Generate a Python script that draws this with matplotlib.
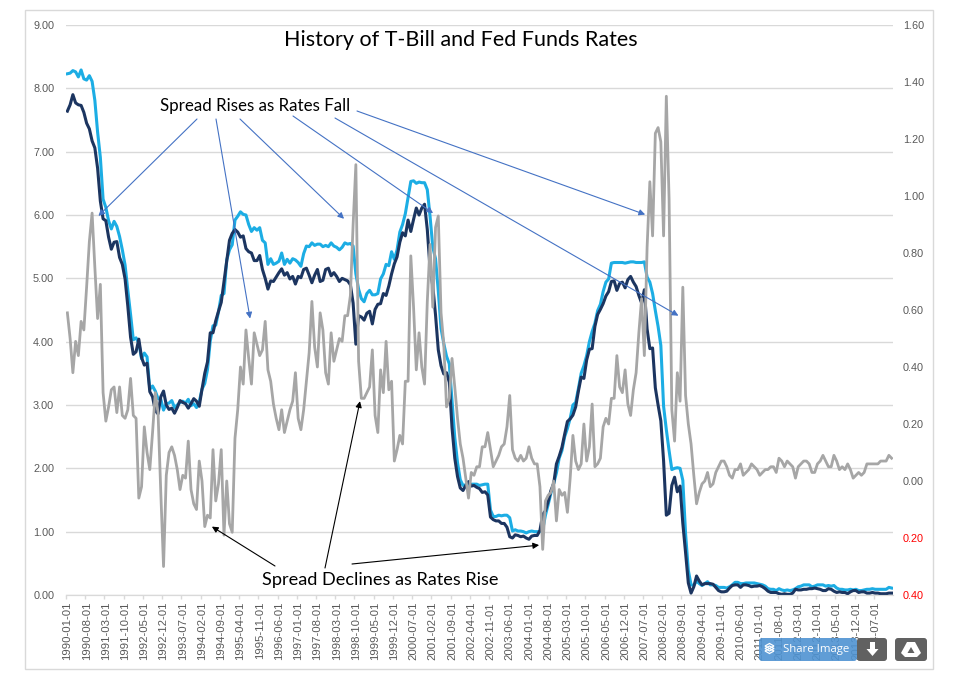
import numpy as np
import pandas as pd
import matplotlib
matplotlib.use('Agg')
import matplotlib.pyplot as plt
from matplotlib.patches import FancyBboxPatch, Rectangle, Polygon

# monthly effective fed funds rate, 1990-01 .. 2015-01
fed_funds = [
    8.23, 8.24, 8.28, 8.26, 8.18, 8.29, 8.15, 8.13, 8.20, 8.11, 7.81, 7.31,
    6.91, 6.25, 6.12, 5.91, 5.78, 5.90, 5.82, 5.66, 5.45, 5.21, 4.81, 4.43,
    4.03, 4.06, 3.98, 3.73, 3.82, 3.76, 3.25, 3.30, 3.22, 3.10, 3.09, 2.92,
    3.02, 3.03, 3.07, 2.96, 3.00, 3.04, 3.06, 3.03, 3.09, 2.99, 3.02, 2.96,
    3.05, 3.25, 3.34, 3.56, 4.01, 4.25, 4.26, 4.47, 4.73, 4.76, 5.29, 5.45,
    5.53, 5.92, 5.98, 6.05, 6.01, 6.00, 5.85, 5.74, 5.80, 5.76, 5.80, 5.60,
    5.56, 5.22, 5.31, 5.22, 5.24, 5.27, 5.40, 5.22, 5.30, 5.24, 5.31, 5.29,
    5.25, 5.19, 5.39, 5.51, 5.50, 5.56, 5.52, 5.54, 5.54, 5.50, 5.52, 5.50,
    5.56, 5.51, 5.49, 5.45, 5.49, 5.56, 5.54, 5.55, 5.51, 5.07, 4.83, 4.68,
    4.63, 4.76, 4.81, 4.74, 4.74, 4.76, 4.99, 5.07, 5.22, 5.20, 5.42, 5.30,
    5.45, 5.73, 5.85, 6.02, 6.27, 6.53, 6.54, 6.50, 6.52, 6.51, 6.51, 6.40,
    5.98, 5.49, 5.31, 4.80, 4.21, 3.97, 3.77, 3.65, 3.07, 2.49, 2.09, 1.82,
    1.73, 1.74, 1.73, 1.75, 1.75, 1.75, 1.73, 1.74, 1.75, 1.75, 1.34, 1.24,
    1.24, 1.26, 1.25, 1.26, 1.26, 1.22, 1.01, 1.03, 1.01, 1.01, 1.00, 0.98,
    1.00, 1.01, 1.00, 1.00, 1.00, 1.03, 1.26, 1.43, 1.61, 1.76, 1.93, 2.16,
    2.28, 2.50, 2.63, 2.79, 3.00, 3.04, 3.26, 3.50, 3.62, 3.78, 4.00, 4.16,
    4.29, 4.49, 4.59, 4.79, 4.94, 4.99, 5.24, 5.25, 5.25, 5.25, 5.25, 5.24,
    5.25, 5.26, 5.26, 5.25, 5.25, 5.25, 5.26, 5.02, 4.94, 4.76, 4.49, 4.24,
    3.94, 2.98, 2.61, 2.28, 1.98, 2.00, 2.01, 2.00, 1.81, 0.97, 0.39, 0.16,
    0.15, 0.22, 0.18, 0.15, 0.18, 0.21, 0.16, 0.16, 0.15, 0.12, 0.12, 0.12,
    0.11, 0.13, 0.16, 0.20, 0.20, 0.18, 0.18, 0.19, 0.19, 0.19, 0.19, 0.18,
    0.17, 0.16, 0.14, 0.10, 0.09, 0.09, 0.07, 0.10, 0.08, 0.07, 0.08, 0.07,
    0.08, 0.10, 0.13, 0.14, 0.16, 0.16, 0.16, 0.13, 0.14, 0.16, 0.16, 0.16,
    0.14, 0.15, 0.14, 0.15, 0.11, 0.09, 0.09, 0.08, 0.08, 0.09, 0.08, 0.09,
    0.07, 0.07, 0.08, 0.09, 0.09, 0.10, 0.09, 0.09, 0.09, 0.09, 0.09, 0.12,
    0.11,
]

# 3-month t-bill, secondary market, same months
tbill_3m = [
    7.64, 7.74, 7.90, 7.77, 7.74, 7.73, 7.62, 7.45, 7.36, 7.17, 7.06, 6.74,
    6.22, 5.94, 5.91, 5.65, 5.46, 5.57, 5.58, 5.33, 5.22, 4.99, 4.56, 4.07,
    3.80, 3.84, 4.04, 3.75, 3.63, 3.66, 3.21, 3.13, 2.91, 2.86, 3.13, 3.22,
    3.00, 2.93, 2.95, 2.87, 2.96, 3.07, 3.04, 3.02, 2.95, 3.02, 3.10, 3.06,
    2.98, 3.25, 3.50, 3.68, 4.14, 4.14, 4.33, 4.48, 4.62, 4.95, 5.29, 5.60,
    5.71, 5.77, 5.73, 5.65, 5.67, 5.47, 5.42, 5.40, 5.28, 5.28, 5.36, 5.14,
    5.00, 4.83, 4.96, 4.95, 5.02, 5.09, 5.15, 5.05, 5.09, 4.99, 5.03, 4.91,
    5.03, 5.01, 5.14, 5.16, 5.05, 4.93, 5.05, 5.14, 4.95, 4.97, 5.14, 5.16,
    5.04, 5.09, 5.03, 4.95, 5.00, 4.98, 4.96, 4.90, 4.61, 3.96, 4.41, 4.39,
    4.34, 4.45, 4.48, 4.28, 4.51, 4.59, 4.60, 4.76, 4.73, 4.88, 5.07, 5.23,
    5.34, 5.57, 5.72, 5.67, 5.92, 5.74, 5.93, 6.11, 6.00, 6.11, 6.17, 5.77,
    5.15, 4.88, 4.42, 3.87, 3.62, 3.49, 3.51, 3.36, 2.64, 2.16, 1.87, 1.69,
    1.65, 1.73, 1.79, 1.72, 1.73, 1.70, 1.68, 1.62, 1.63, 1.58, 1.23, 1.19,
    1.17, 1.17, 1.13, 1.13, 1.07, 0.92, 0.90, 0.95, 0.94, 0.92, 0.93, 0.90,
    0.88, 0.93, 0.94, 0.94, 1.02, 1.27, 1.33, 1.48, 1.65, 1.76, 2.07, 2.19,
    2.33, 2.54, 2.74, 2.78, 2.84, 2.97, 3.22, 3.44, 3.42, 3.71, 3.88, 3.89,
    4.24, 4.43, 4.51, 4.60, 4.72, 4.79, 4.95, 4.96, 4.81, 4.92, 4.94, 4.85,
    4.98, 5.03, 4.94, 4.87, 4.73, 4.61, 4.82, 4.20, 3.89, 3.90, 3.27, 3.00,
    2.75, 2.12, 1.26, 1.29, 1.73, 1.86, 1.63, 1.72, 1.13, 0.67, 0.19, 0.03,
    0.13, 0.30, 0.22, 0.16, 0.18, 0.18, 0.18, 0.17, 0.12, 0.07, 0.05, 0.05,
    0.06, 0.11, 0.15, 0.16, 0.16, 0.12, 0.16, 0.16, 0.15, 0.13, 0.14, 0.14,
    0.15, 0.13, 0.10, 0.06, 0.04, 0.04, 0.04, 0.02, 0.01, 0.02, 0.01, 0.01,
    0.03, 0.09, 0.08, 0.08, 0.09, 0.09, 0.10, 0.10, 0.11, 0.10, 0.09, 0.07,
    0.07, 0.10, 0.09, 0.06, 0.04, 0.05, 0.04, 0.04, 0.02, 0.05, 0.07, 0.07,
    0.04, 0.05, 0.05, 0.03, 0.03, 0.04, 0.03, 0.03, 0.02, 0.02, 0.02, 0.03,
    0.03,
]

dates = pd.date_range('1990-01-01', periods=len(fed_funds), freq='MS')
# spread plotted on the right axis = fed funds minus t-bill
spread = np.round(np.array(fed_funds) - np.array(tbill_3m), 2)

left_ticks = np.arange(0, 9.5, 1.0)
right_ticks = np.round(np.arange(-0.4, 1.65, 0.2), 2)
label_step = 7

W, H = 954, 675
BLUE = '#1CADE4'
NAVY = '#1C3560'
GREY = '#A6A6A6'
GRID = '#D9D9D9'
TXT = '#595959'

fig = plt.figure(figsize=(W / 100, H / 100), dpi=100)
fig.patch.set_facecolor('white')

# chart frame
fig.add_artist(Rectangle((25 / W, 1 - 669 / H), 908 / W, 659 / H,
                         transform=fig.transFigure, fill=False,
                         edgecolor=GRID, lw=1))

ax = fig.add_axes([66 / W, 1 - 595 / H, (893 - 66) / W, (595 - 25) / H])
ax2 = ax.twinx()

x = np.arange(len(fed_funds))
ax.plot(x, fed_funds, color=BLUE, lw=2.2, zorder=2, solid_joinstyle='round')
ax.plot(x, tbill_3m, color=NAVY, lw=2.2, zorder=3, solid_joinstyle='round')
ax2.plot(x, spread, color=GREY, lw=2.0, zorder=2, solid_joinstyle='round')

ax.set_xlim(-0.5, len(x) - 0.5)
ax.set_ylim(0, 9)
ax2.set_ylim(-0.4, 1.6)

ax.set_yticks(left_ticks)
ax.set_yticklabels([f'{v:.2f}' for v in left_ticks])
ax2.set_yticks(right_ticks)
ax2.set_yticklabels([f'{abs(v):.2f}' for v in right_ticks])
for lab, v in zip(ax2.get_yticklabels(), right_ticks):
    lab.set_color('red' if v < 0 else TXT)

ax.yaxis.grid(True, color=GRID, lw=1)
ax.set_axisbelow(True)

pos = x[::label_step]
ax.set_xticks(pos)
ax.set_xticklabels([d.strftime('%Y-%m-%d') for d in dates[::label_step]],
                   rotation=90, fontsize=8.2, color=TXT,
                   family='Liberation Sans')
ax.set_xticks(pos - 0.5, minor=True)
ax.tick_params(axis='x', which='major', length=0, pad=5)
ax.tick_params(axis='x', which='minor', length=3, color=GRID, width=1)
ax.tick_params(axis='y', length=0, pad=8.5, labelsize=7.8, labelcolor=TXT)
ax2.tick_params(axis='y', length=0, pad=7, labelsize=7.8)
for lab in ax.get_yticklabels() + ax2.get_yticklabels():
    lab.set_family('Liberation Sans')

for a in (ax, ax2):
    for s in ('top', 'left', 'right'):
        a.spines[s].set_visible(False)
    a.spines['bottom'].set_color(GRID)

# overlay in pixel coordinates for title, notes and buttons
ov = fig.add_axes([0, 0, 1, 1], zorder=10)
ov.set_xlim(0, W)
ov.set_ylim(H, 0)
ov.axis('off')
ov.patch.set_visible(False)

ov.text(461, 40, 'History of T-Bill and Fed Funds Rates', fontsize=15.5,
        family='Lato', ha='center', va='center', color='black')
ov.text(160, 106, 'Spread Rises as Rates Fall', fontsize=12.2,
        family='Lato', ha='left', va='center', color='black')
ov.text(262, 580, 'Spread Declines as Rates Rise', fontsize=13.1,
        family='Lato', ha='left', va='center', color='black')

rise_arrows = [((197, 119), (11.3, 0.93)), ((216, 119), (66.5, 0.57)),
               ((240, 119), (100.7, 0.92)), ((293, 116), (133.1, 0.94)),
               ((335, 118), (222.4, 0.58)), ((357, 111), (210.3, 0.935))]
fall_arrows = [((275, 566), (52.6, -0.16)), ((325, 568), (106.5, 0.28)),
               ((352, 564), (171.7, -0.225))]

for start, end in rise_arrows:
    ov.annotate('', xy=end, xycoords=ax2.transData, xytext=start,
                textcoords='data',
                arrowprops=dict(arrowstyle='-|>', color='#4472C4', lw=0.8,
                                shrinkA=0, shrinkB=0, mutation_scale=9))
for start, end in fall_arrows:
    ov.annotate('', xy=end, xycoords=ax2.transData, xytext=start,
                textcoords='data',
                arrowprops=dict(arrowstyle='-|>', color='black', lw=0.8,
                                shrinkA=0, shrinkB=0, mutation_scale=9))

# share / download / drive buttons
ov.add_patch(FancyBboxPatch((759, 638), 98, 23,
                            boxstyle='round,pad=0,rounding_size=3',
                            fc='#4F93D2', ec='none', alpha=0.9))
ov.text(816, 649.5, 'Share Image', fontsize=8.2, family='Open Sans',
        color='white', ha='center', va='center')
for k in range(3):
    ov.add_patch(Polygon([(765, 646 + 2.5 * k), (769.5, 643.5 + 2.5 * k),
                          (774, 646 + 2.5 * k), (769.5, 648.5 + 2.5 * k)],
                         closed=True, fc='none', ec='white', lw=0.9))
ov.add_patch(FancyBboxPatch((857, 638), 30, 23,
                            boxstyle='round,pad=0,rounding_size=3',
                            fc='#616161', ec='none'))
ov.add_patch(Polygon([(870, 642), (875, 642), (875, 649), (878.5, 649),
                      (872.5, 656), (866.5, 649), (870, 649)],
                     closed=True, fc='white', ec='none'))
ov.add_patch(FancyBboxPatch((895, 638), 32, 23,
                            boxstyle='round,pad=0,rounding_size=3',
                            fc='#616161', ec='none'))
ov.add_patch(Polygon([(907, 642), (915, 642), (921, 653), (917, 657),
                      (905, 657), (901, 653)],
                     closed=True, fc='white', ec='none'))
ov.add_patch(Polygon([(911, 647), (914.5, 653), (907.5, 653)],
                     closed=True, fc='#616161', ec='none'))

fig.savefig('out.png', dpi=100)
